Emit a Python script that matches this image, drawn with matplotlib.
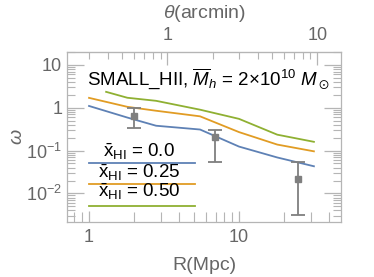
import matplotlib
matplotlib.use("Agg")
import matplotlib.pyplot as plt
from matplotlib.ticker import LogLocator, NullFormatter, FixedLocator

plt.rcParams['font.family'] = ['Liberation Sans', 'DejaVu Sans']
plt.rcParams['mathtext.fontset'] = 'custom'
plt.rcParams['mathtext.rm'] = 'Liberation Sans'
plt.rcParams['mathtext.it'] = 'Liberation Sans:italic'
plt.rcParams['mathtext.bf'] = 'Liberation Sans:bold'
plt.rcParams['mathtext.fallback'] = 'stixsans'

# ---- data ----
R_lines = [1.0, 1.8, 2.8, 5.5, 10.0, 18.0, 31.6]
w_x00 = [1.1, 0.59, 0.38, 0.31, 0.124, 0.069, 0.043]
w_x25 = [1.7, 1.05, 0.85, 0.63, 0.27, 0.138, 0.096]
R_green = [1.3, 1.8, 2.8, 5.5, 10.0, 18.0, 31.6]
w_x50 = [2.35, 1.71, 1.45, 0.9, 0.55, 0.235, 0.16]

R_obs = [2.0, 6.9, 24.7]
w_obs = [0.65, 0.21, 0.022]
w_lo = [0.33, 0.053, 0.0032]
w_hi = [1.0, 0.31, 0.053]

legend_labels = [r"$\bar{\mathrm{x}}_{\mathrm{HI}}$ = 0.0",
                 r"$\bar{\mathrm{x}}_{\mathrm{HI}}$ = 0.25",
                 r"$\bar{\mathrm{x}}_{\mathrm{HI}}$ = 0.50"]
colors = ['#5E81B5', '#E19C24', '#8FB032']
theta_ratio = 3.33  # R(Mpc) per arcmin

fig = plt.figure(figsize=(3.74, 2.77), dpi=100)
ax = fig.add_axes([67/374, 55/277, 274/374, 170/277])
ax.set_xscale('log')
ax.set_yscale('log')
ax.set_xlim(0.713, 47.9)
ax.set_ylim(0.00215, 20.0)

ax.plot(R_lines, w_x00, color=colors[0], lw=1.3)
ax.plot(R_lines, w_x25, color=colors[1], lw=1.3)
ax.plot(R_green, w_x50, color=colors[2], lw=1.3)

yerr = [[w - l for w, l in zip(w_obs, w_lo)], [h - w for w, h in zip(w_obs, w_hi)]]
ax.errorbar(R_obs, w_obs, yerr=yerr, fmt='s', color='#7f7f7f', ms=5, lw=1.3,
            capsize=5, capthick=1.3, zorder=5)

frame_c = '#b5b5b5'
label_c = '#666666'
for s in ax.spines.values():
    s.set_color(frame_c)
    s.set_linewidth(0.9)

ax.tick_params(which='both', direction='in', color=frame_c, labelcolor=label_c,
               labelsize=13, right=True, top=False)
ax.tick_params(which='major', length=12, width=0.9)
ax.tick_params(which='minor', length=6, width=0.8)
ax.tick_params(axis='x', which='major', length=8, pad=5)
ax.tick_params(axis='x', which='minor', length=7)
ax.xaxis.set_major_locator(FixedLocator([1, 10]))
ax.set_xticklabels(['1', '10'])
ax.xaxis.set_minor_locator(LogLocator(base=10, subs=range(2, 10), numticks=20))
ax.xaxis.set_minor_formatter(NullFormatter())
ax.yaxis.set_major_locator(FixedLocator([0.01, 0.1, 1, 10]))
ax.set_yticklabels([r'$10^{-2}$', r'$10^{-1}$', '1', '10'])
ax.yaxis.set_minor_locator(LogLocator(base=10, subs=range(2, 10), numticks=20))
ax.yaxis.set_minor_formatter(NullFormatter())

ax.set_xlabel('R(Mpc)', color=label_c, fontsize=14, labelpad=8)
ax.set_ylabel(r'$\omega$', color=label_c, fontsize=14, labelpad=0)

sec = ax.secondary_xaxis('top', functions=(lambda r: r / theta_ratio, lambda t: t * theta_ratio))
sec.spines['top'].set_color(frame_c)
sec.tick_params(which='both', direction='in', color=frame_c, labelcolor=label_c, labelsize=13)
sec.tick_params(which='major', length=9, width=0.9, pad=6)
sec.tick_params(which='minor', length=5, width=0.8)
sec.xaxis.set_major_locator(FixedLocator([1, 10]))
sec.set_xticklabels(['1', '10'])
sec.xaxis.set_minor_locator(LogLocator(base=10, subs=range(2, 10), numticks=20))
sec.xaxis.set_minor_formatter(NullFormatter())
sec.set_xlabel(r'$\theta$(arcmin)', color=label_c, fontsize=14, labelpad=6)

ax.text(0.515, 0.84, r"SMALL_HII, $\overline{M}_h$ = 2$\times$10$^{10}$ $M_\odot$",
        transform=ax.transAxes, ha='center', va='center', fontsize=13.5, color='black')

text_y = [0.385, 0.259, 0.146]
line_y = [0.349, 0.224, 0.096]
for lab, c, ty, ly in zip(legend_labels, colors, text_y, line_y):
    ax.text(0.262, ty, lab, transform=ax.transAxes, ha='center', va='baseline',
            fontsize=13.5, color='black')
    ax.plot([0.080, 0.467], [ly, ly], transform=ax.transAxes, color=c, lw=1.3)

fig.savefig('out.png', dpi=100)
